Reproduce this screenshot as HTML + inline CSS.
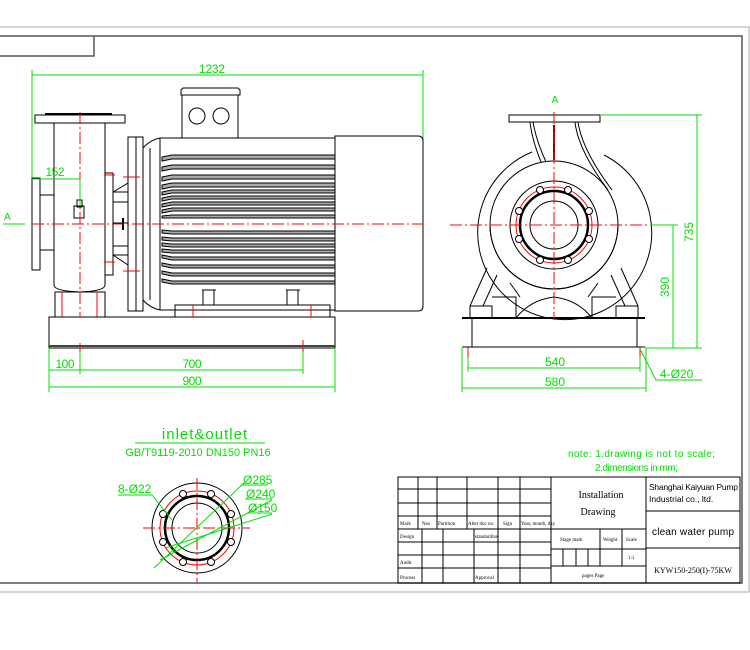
<!DOCTYPE html>
<html><head><meta charset="utf-8"><style>
html,body{margin:0;padding:0;background:#fff;width:750px;height:650px;overflow:hidden}
svg{display:block}
.k{stroke:#000;fill:none;stroke-width:1}
.g{stroke:#00e000;fill:none;stroke-width:1}
.r{stroke:#f00;fill:none;stroke-width:1;stroke-dasharray:12 3 2 3}
.gt{fill:#00e000;font-family:"Liberation Sans",sans-serif}
.bt{fill:#000;font-family:"Liberation Serif",serif}
</style></head><body>
<svg width="750" height="650" viewBox="0 0 750 650" xmlns="http://www.w3.org/2000/svg">
<polyline points="0,27 749,27 749,592 0,592" fill="none" stroke="#aaa" stroke-width="1"/>
<polyline points="0,36 742,36 742,583 0,583" fill="none" stroke="#555" stroke-width="1.5"/>
<polyline points="0,56 94,56 94,36" fill="none" stroke="#555" stroke-width="1.5"/>

<line class="g" x1="32" y1="75" x2="423" y2="75"/>
<line class="g" x1="32" y1="70" x2="32" y2="180"/>
<line class="g" x1="423" y1="70" x2="423" y2="160"/>
<text class="gt" x="212" y="73" font-size="12" text-anchor="middle" textLength="26">1232</text>
<g class="k">
<rect x="35" y="115" width="90" height="8"/>
<line x1="45" y1="114" x2="112" y2="114" stroke-width="2"/>
<path d="M54,123 L54,285 Q54,291 80,292 Q105,291 105,285 L105,123"/>
<rect x="55" y="292" width="50" height="25"/>
<line x1="62" y1="292" x2="62" y2="317" stroke="#f00"/>
<line x1="97" y1="292" x2="97" y2="317" stroke="#f00"/>
<rect x="32" y="178" width="8" height="92"/>
<rect x="40" y="195" width="14" height="55"/>
<rect x="105" y="173" width="8" height="102"/>
<rect x="74" y="206" width="10" height="12"/>
<rect x="77" y="200" width="5" height="7"/>
<line x1="113" y1="192" x2="128" y2="183"/><line x1="113" y1="192" x2="128" y2="192"/>
<line x1="113" y1="202" x2="128" y2="202"/>
<line x1="113" y1="246" x2="128" y2="246"/><line x1="113" y1="255" x2="128" y2="265"/>
<line x1="113" y1="255" x2="128" y2="255"/>
<line x1="113" y1="223" x2="128" y2="223"/><line x1="123" y1="218" x2="123" y2="230" stroke-width="2"/>
<rect x="128" y="137" width="15" height="174"/>
<line x1="136" y1="137" x2="136" y2="311"/>
<path d="M143,148 Q150,140 160,138 L335,138 L335,310 L160,310 Q150,308 143,300"/>
<line x1="150" y1="148" x2="150" y2="300"/>
<line x1="160" y1="138" x2="160" y2="310"/>
<path d="M335,136 L418,136 Q423,136 423,141 L423,306 Q423,311 418,311 L335,311 Z"/>
<path d="M181,95 L181,90 L183,88 L238,88 L240,90 L240,95 Z"/>
<rect x="182" y="95" width="56" height="43"/>
<circle cx="197" cy="116" r="8"/><circle cx="221" cy="116" r="8"/>
<rect x="175" y="305" width="155" height="12"/>
<path d="M203,290 L203,305 M214,290 L214,305 M202,290 L216,290 M287,290 L287,305 M298,290 L298,305 M286,290 L300,290"/>
<rect x="49" y="317" width="286" height="31"/>
<line x1="49" y1="346" x2="335" y2="346" stroke="#444" stroke-width="2"/>
</g>
<g stroke="#000" stroke-width="1" fill="#aaa">
<path d="M162,157 L172,155 L335,155 L335,159 L172,159 L162,161Z"/>
<path d="M162,167 L172,165 L335,165 L335,169 L172,169 L162,171Z"/>
<path d="M162,177 L172,175 L335,175 L335,179 L172,179 L162,181Z"/>
<path d="M162,185 L172,183 L335,183 L335,187 L172,187 L162,189Z"/>
<path d="M162,192 L172,190 L335,190 L335,193 L172,193 L162,195Z"/>
<path d="M162,198 L172,196 L335,196 L335,199 L172,199 L162,201Z"/>
<path d="M162,204 L172,202 L335,202 L335,205 L172,205 L162,207Z"/>
<path d="M162,210 L172,208 L335,208 L335,211 L172,211 L162,213Z"/>
<path d="M162,216 L172,215 L335,215 L335,218 L172,218 L162,218Z"/>
<path d="M162,230 L172,231 L335,231 L335,234 L172,234 L162,233Z"/>
<path d="M162,237 L172,238 L335,238 L335,241 L172,241 L162,240Z"/>
<path d="M162,243 L172,244 L335,244 L335,247 L172,247 L162,246Z"/>
<path d="M162,249 L172,250 L335,250 L335,253 L172,253 L162,252Z"/>
<path d="M162,255 L172,257 L335,257 L335,260 L172,260 L162,258Z"/>
<path d="M162,263 L172,265 L335,265 L335,268 L172,268 L162,266Z"/>
<path d="M162,271 L172,273 L335,273 L335,276 L172,276 L162,274Z"/>
<path d="M162,279 L172,281 L335,281 L335,284 L172,284 L162,282Z"/>
</g>
<line class="r" x1="32" y1="224" x2="423" y2="224"/>
<line class="r" x1="80" y1="112" x2="80" y2="317"/>
<g stroke="#f00"><line x1="123" y1="177" x2="140" y2="177"/><line x1="123" y1="271" x2="140" y2="271"/>
<line x1="104" y1="175" x2="115" y2="175"/><line x1="104" y1="262" x2="115" y2="262"/>
<line x1="193" y1="305" x2="193" y2="317"/><line x1="311" y1="305" x2="311" y2="317"/>
<line x1="80" y1="343" x2="80" y2="352"/><line x1="303" y1="340" x2="303" y2="352"/></g>
<line class="g" x1="3" y1="224" x2="25" y2="224"/>
<text class="gt" x="4" y="220" font-size="10">A</text>
<line class="g" x1="32" y1="179" x2="80" y2="179"/>
<line class="g" x1="80" y1="179" x2="80" y2="205"/>
<text class="gt" x="55" y="176" font-size="12" text-anchor="middle" textLength="19">152</text>
<line class="g" x1="49" y1="348" x2="49" y2="392"/>
<line class="g" x1="80" y1="352" x2="80" y2="374"/>
<line class="g" x1="303" y1="352" x2="303" y2="374"/>
<line class="g" x1="335" y1="348" x2="335" y2="392"/>
<line class="g" x1="49" y1="370" x2="303" y2="370"/>
<line class="g" x1="49" y1="387" x2="335" y2="387"/>
<text class="gt" x="65" y="368" font-size="12" text-anchor="middle" textLength="19">100</text>
<text class="gt" x="192" y="368" font-size="12" text-anchor="middle" textLength="19">700</text>
<text class="gt" x="192" y="385" font-size="12" text-anchor="middle" textLength="19">900</text>

<text class="gt" x="555" y="103" font-size="10" text-anchor="middle">A</text>
<g class="k">
<rect x="509" y="115" width="91" height="7"/>
<path d="M530,122 Q532,140 541,162 M533,122 Q536,140 546,162"/>
<path d="M578,122 Q582,150 612,190 M575,122 Q578,150 608,190"/>
<path d="M532,152 A87,87 0 1 0 604,155"/>
<circle cx="554" cy="225" r="64"/>
<path d="M490,225 A64,64 0 0 0 618,225" />
<circle cx="554" cy="225" r="44"/>
<circle cx="554" cy="225" r="34" stroke-width="2.5"/>
<circle cx="554" cy="225" r="24"/>
<path d="M487,268 L470,306 L470,318 M497,275 L483,306 M470,306 L492,306 L492,318 M492,297 L516,297 L516,318 M510,283 L520,297"/>
<path d="M621,268 L638,306 L638,318 M611,275 L625,306 M638,306 L616,306 L616,318 M616,297 L592,297 L592,318 M598,283 L588,297"/>
<path d="M516,318 Q530,300 554,297 Q578,300 592,318"/>
<line x1="462" y1="318" x2="645" y2="318" stroke-width="2"/>
<line x1="472" y1="318" x2="472" y2="347"/><line x1="637" y1="318" x2="637" y2="347"/>
<line x1="462" y1="347" x2="645" y2="347"/>
</g>
<circle cx="554" cy="225" r="38" fill="none" stroke="#f00"/>
<g fill="#fff" stroke="#000">
<circle cx="540" cy="190" r="3.5"/><circle cx="568" cy="190" r="3.5"/>
<circle cx="519" cy="211" r="3.5"/><circle cx="589" cy="211" r="3.5"/>
<circle cx="519" cy="239" r="3.5"/><circle cx="589" cy="239" r="3.5"/>
<circle cx="540" cy="260" r="3.5"/><circle cx="568" cy="260" r="3.5"/>
</g>
<line x1="554" y1="125" x2="554" y2="160" stroke="#800" stroke-width="2"/>
<line class="r" x1="450" y1="225" x2="655" y2="225"/>
<line class="r" x1="554" y1="112" x2="554" y2="320"/>
<line x1="468" y1="347" x2="468" y2="357" stroke="#f00"/><line x1="640" y1="347" x2="640" y2="357" stroke="#f00"/>
<line class="g" x1="600" y1="115" x2="702" y2="115"/>
<line class="g" x1="645" y1="348" x2="702" y2="348"/>
<line class="g" x1="650" y1="225" x2="678" y2="225"/>
<line class="g" x1="697" y1="115" x2="697" y2="348"/>
<line class="g" x1="673" y1="225" x2="673" y2="348"/>
<text class="gt" font-size="12" transform="translate(693,232) rotate(-90)" text-anchor="middle">735</text>
<text class="gt" font-size="12" transform="translate(669,287) rotate(-90)" text-anchor="middle">390</text>
<line class="g" x1="462" y1="348" x2="462" y2="392"/><line class="g" x1="646" y1="348" x2="646" y2="392"/>
<line class="g" x1="468" y1="357" x2="468" y2="372"/><line class="g" x1="640" y1="357" x2="640" y2="372"/>
<line class="g" x1="468" y1="368" x2="640" y2="368"/>
<line class="g" x1="462" y1="388" x2="646" y2="388"/>
<text class="gt" x="555" y="366" font-size="12" text-anchor="middle">540</text>
<text class="gt" x="555" y="386" font-size="12" text-anchor="middle">580</text>
<polyline class="g" points="640,349 656,380 702,380"/>
<text class="gt" x="660" y="378" font-size="12">4-Ø20</text>

<text class="gt" x="205" y="439" font-size="15" text-anchor="middle" letter-spacing="1">inlet&amp;outlet</text>
<line class="g" x1="135" y1="443" x2="265" y2="443"/>
<text class="gt" x="198" y="456" font-size="11" text-anchor="middle">GB/T9119-2010 DN150 PN16</text>
<g class="k">
<circle cx="197" cy="528" r="45"/>
<circle cx="197" cy="528" r="32" stroke-width="2.5"/>
<circle cx="197" cy="528" r="25"/>
</g>
<circle cx="197" cy="528" r="37" fill="none" stroke="#f00"/>
<g fill="#fff" stroke="#000">
<circle cx="183" cy="494" r="3.5"/><circle cx="211" cy="494" r="3.5"/>
<circle cx="163" cy="514" r="3.5"/><circle cx="231" cy="514" r="3.5"/>
<circle cx="163" cy="542" r="3.5"/><circle cx="231" cy="542" r="3.5"/>
<circle cx="183" cy="562" r="3.5"/><circle cx="211" cy="562" r="3.5"/>
</g>
<line class="r" x1="143" y1="528" x2="250" y2="528"/>
<line class="r" x1="197" y1="478" x2="197" y2="583"/>
<polyline class="g" points="118,495 152,495 172,520"/>
<line class="g" x1="154" y1="568" x2="244" y2="483"/>
<line class="g" x1="160" y1="560" x2="272" y2="500"/>
<line class="g" x1="165" y1="548" x2="272" y2="514"/>
<line class="g" x1="243" y1="485" x2="268" y2="485"/>
<line class="g" x1="245" y1="499" x2="272" y2="499"/>
<line class="g" x1="247" y1="513" x2="272" y2="513"/>
<text class="gt" x="118" y="493" font-size="12">8-Ø22</text>
<text class="gt" x="243" y="484" font-size="12">Ø285</text>
<text class="gt" x="246" y="498" font-size="12">Ø240</text>
<text class="gt" x="248" y="512" font-size="12">Ø150</text>

<text class="gt" x="568" y="457" font-size="10" textLength="147">note: 1.drawing is not to scale;</text>
<text class="gt" x="595" y="471" font-size="10" textLength="83">2.dimensions in mm;</text>

<g class="k">
<rect x="398" y="477" width="342" height="106"/>
<line x1="398" y1="489" x2="551" y2="489"/>
<line x1="398" y1="503" x2="551" y2="503"/>
<line x1="398" y1="516" x2="551" y2="516"/>
<line x1="398" y1="529" x2="646" y2="529"/>
<line x1="398" y1="542" x2="551" y2="542"/>
<line x1="398" y1="555" x2="551" y2="555"/>
<line x1="398" y1="568" x2="551" y2="568"/>
<line x1="418" y1="477" x2="418" y2="529"/>
<line x1="437" y1="477" x2="437" y2="529"/>
<line x1="467" y1="477" x2="467" y2="529"/>
<line x1="498" y1="477" x2="498" y2="583"/>
<line x1="520" y1="477" x2="520" y2="583"/>
<line x1="551" y1="477" x2="551" y2="583"/>
<line x1="422" y1="529" x2="422" y2="583"/>
<line x1="443" y1="529" x2="443" y2="583"/>
<line x1="474" y1="529" x2="474" y2="583"/>
<line x1="646" y1="477" x2="646" y2="583"/>
<line x1="551" y1="549" x2="646" y2="549"/>
<line x1="551" y1="566" x2="646" y2="566"/>
<line x1="600" y1="529" x2="600" y2="566"/>
<line x1="622" y1="529" x2="622" y2="566"/>
<line x1="563" y1="549" x2="563" y2="566"/>
<line x1="576" y1="549" x2="576" y2="566"/>
<line x1="588" y1="549" x2="588" y2="566"/>
<line x1="646" y1="511" x2="740" y2="511"/>
<line x1="646" y1="548" x2="740" y2="548"/>
</g>
<g class="bt" font-size="5">
<text x="400" y="525">Mark</text><text x="422" y="525">Nos</text><text x="438" y="525">Partition</text><text x="468" y="525">Alter doc no.</text><text x="503" y="525">Sign</text><text x="521" y="525">Year, month, day</text>
<text x="400" y="538">Design</text><text x="475" y="538">standardize</text>
<text x="400" y="564">Audit</text><text x="400" y="579">Process</text><text x="475" y="579">Approval</text>
<text x="560" y="541">Stage mark</text><text x="603" y="541">Weight</text><text x="626" y="541">Scale</text>
<text x="628" y="559">1:1</text><text x="582" y="577">pages  Page</text>
</g>
<text class="bt" x="601" y="498" font-size="10" text-anchor="middle">Installation</text>
<text class="bt" x="598" y="515" font-size="10" text-anchor="middle">Drawing</text>
<text x="649" y="490" font-size="8.5" font-family="Liberation Sans,sans-serif" textLength="89">Shanghai Kaiyuan Pump</text>
<text x="649" y="502" font-size="8.5" font-family="Liberation Sans,sans-serif">Industrial co., ltd.</text>
<text x="693" y="535" font-size="10" font-family="Liberation Sans,sans-serif" text-anchor="middle" textLength="82">clean water pump</text>
<text class="bt" x="693" y="573" font-size="8" text-anchor="middle">KYW150-250(I)-75KW</text>
</svg>
</body></html>
